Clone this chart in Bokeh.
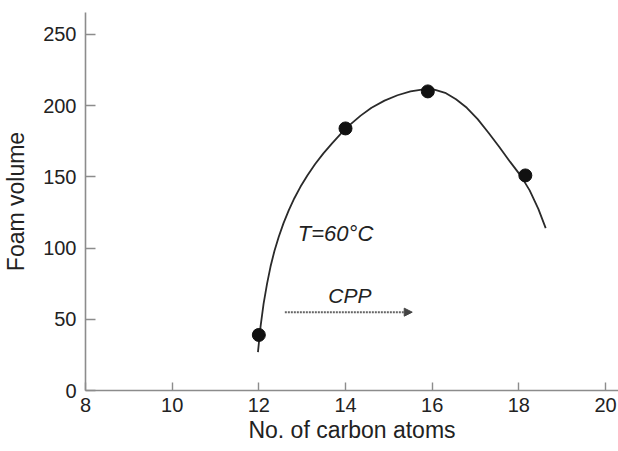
from bokeh.plotting import figure
from bokeh.models import Arrow, NormalHead, Label, FixedTicker
from bokeh.embed import file_html
from bokeh.resources import INLINE

# Measured foam volume against surfactant chain length
carbon_atoms = [12.0, 14.0, 15.9, 18.15]
foam_volume = [39, 184, 210, 151]

# Hand-fitted trend curve through the measurements
curve_x = [11.98, 12.04, 12.11, 12.19, 12.27, 12.36, 12.46, 12.57, 12.69, 12.82,
           12.96, 13.12, 13.30, 13.49, 13.69, 13.90, 14.10, 14.35, 14.60, 14.90,
           15.20, 15.50, 15.80, 16.05, 16.30, 16.55, 16.80, 17.05, 17.30, 17.55,
           17.80, 18.05, 18.25, 18.45, 18.62]
curve_y = [27, 45, 61, 75, 87, 98, 108, 117.5, 126.5, 135,
           143, 151, 159, 166.5, 173.5, 180.5, 186.5, 193, 198.5, 203.5,
           207.3, 210, 211.5, 211.3, 209, 204.5, 198.5, 190.5, 181, 171,
           160.5, 150.5, 140.5, 127.5, 114]

x_ticks = [8, 10, 12, 14, 16, 18, 20]
y_ticks = [0, 50, 100, 150, 200, 250]

FONT = "Liberation Sans"
AXIS_GREY = "#8c8c8c"

p = figure(width=618, height=451, x_range=(8, 20.3), y_range=(0, 265.4),
           output_backend="svg", toolbar_location=None,
           min_border_left=83, min_border_right=0, min_border_top=12,
           min_border_bottom=61)
p.outline_line_color = None
p.xgrid.visible = False
p.ygrid.visible = False
p.background_fill_color = "white"
p.border_fill_color = "white"

p.xaxis.ticker = FixedTicker(ticks=x_ticks)
p.yaxis.ticker = FixedTicker(ticks=y_ticks)
p.xaxis.axis_label = "No. of carbon atoms"
p.yaxis.axis_label = "Foam volume"

for ax in (p.xaxis, p.yaxis):
    ax.axis_line_color = AXIS_GREY
    ax.axis_line_width = 1.6
    ax.major_tick_line_color = AXIS_GREY
    ax.major_tick_line_width = 1.4
    ax.major_tick_out = 0
    ax.minor_tick_line_color = None
    ax.major_label_text_font = FONT
    ax.major_label_text_font_size = "20px"
    ax.major_label_text_color = "#222222"
    ax.axis_label_text_font = FONT
    ax.axis_label_text_font_size = "23px"
    ax.axis_label_text_font_style = "normal"
    ax.axis_label_text_color = "#222222"

p.xaxis.major_tick_in = 8
p.yaxis.major_tick_in = 10
p.xaxis.major_label_standoff = 7
p.yaxis.major_label_standoff = 9
p.xaxis.axis_label_standoff = 2
p.yaxis.axis_label_standoff = 11

# Trend curve and data points
p.line(curve_x, curve_y, line_color="#2a2a2a", line_width=1.8,
       line_join="round")
p.scatter(carbon_atoms, foam_volume, size=13, fill_color="#111111",
          line_color="#111111")

# Annotations
p.add_layout(Label(x=12.9, y=110.5, text="T=60°C", text_font=FONT,
                   text_font_size="22px", text_font_style="italic",
                   text_color="#222222", text_baseline="middle",
                   text_align="left"))
p.add_layout(Label(x=14.1, y=66.7, text="CPP", text_font=FONT,
                   text_font_size="21px", text_font_style="italic",
                   text_color="#222222", text_baseline="middle",
                   text_align="center"))
p.add_layout(Arrow(x_start=12.6, y_start=55, x_end=15.54, y_end=55,
                   line_color="#666666", line_width=2, line_dash="2 1",
                   end=NormalHead(size=8, fill_color="#444444",
                                  line_color="#444444")))

open("out.html", "w").write(file_html(p, INLINE))
